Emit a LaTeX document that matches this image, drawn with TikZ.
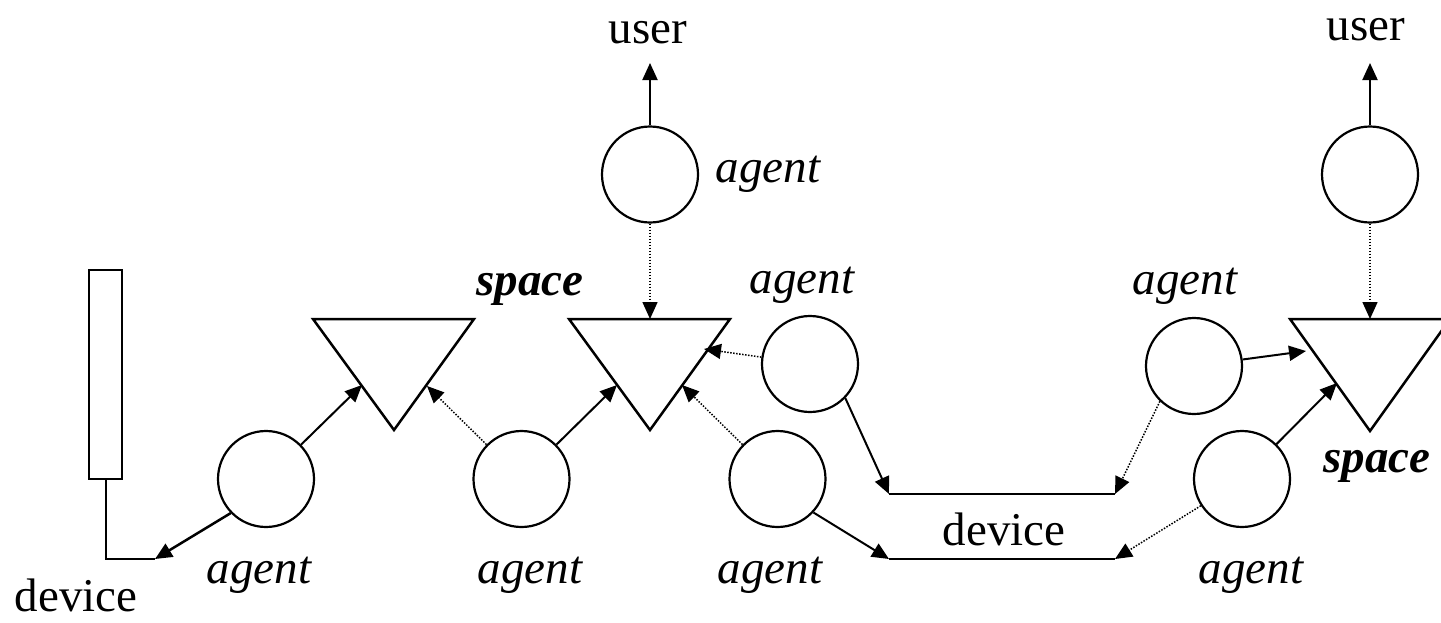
\documentclass[tikz,border=0pt]{standalone}
\usepackage{fontspec}
\setmainfont{Liberation Serif}
\usetikzlibrary{arrows.meta}
\begin{document}
\begin{tikzpicture}[x=1pt,y=-1pt,
  ag/.style={circle,draw,line width=2.2pt,minimum size=96pt,inner sep=0pt},
  lbl/.style={anchor=base,inner sep=0pt,font=\fontsize{47}{56}\selectfont},
  ital/.style={anchor=base,inner sep=0pt,font=\fontsize{47}{56}\selectfont\itshape},
  sp/.style={anchor=base,inner sep=0pt,font=\fontsize{47}{56}\selectfont\bfseries\itshape},
  conn/.style={line width=2pt,-{Triangle[length=17pt,width=15pt]}},
  dconn/.style={line width=1.5pt,dash pattern=on 1.5pt off 1.5pt,-{Triangle[length=17pt,width=15pt]}},
  tri/.style={draw,line width=2.5pt,line join=miter},
  devline/.style={line width=2.5pt}
]
\fill[white] (0,0) rectangle (1441,622);
\useasboundingbox (0,0) rectangle (1441,622);

% spaces (triangles)
\draw[tri] (313,319) -- (474,319) -- (394,430) -- cycle;
\draw[tri] (569,319) -- (730,319) -- (650,430) -- cycle;
\draw[tri] (1290,319) -- (1450,319) -- (1370,431) -- cycle;

% agents
\node[ag] (c1) at (266,479) {};
\node[ag] (c2) at (521.5,479) {};
\node[ag] (c3) at (777.5,479) {};
\node[ag] (c4) at (810,364) {};
\node[ag] (c5) at (1194,366) {};
\node[ag] (c6) at (1242,479) {};
\node[ag] (c7) at (1370,174.5) {};
\node[ag] (c8) at (650,174.5) {};

% left device
\node[draw,line width=2pt,minimum width=33pt,minimum height=209pt,inner sep=0pt] (dev) at (105.5,374.5) {};

% connector end points
\coordinate (t1a) at (362,385);
\coordinate (t1b) at (427,386);
\coordinate (t2a) at (617,385);
\coordinate (t2b) at (682,385);
\coordinate (t2c) at (704,349);
\coordinate (t2top) at (650,319);
\coordinate (t3a) at (1306,351);
\coordinate (t3b) at (1337,383);
\coordinate (t3top) at (1370,319);
\coordinate (u1) at (650,63);
\coordinate (u2) at (1370,63);
\coordinate (dl) at (155,559);
\coordinate (d1l) at (889,494);
\coordinate (d1r) at (1115,494);
\coordinate (d2l) at (889,559);
\coordinate (d2r) at (1115,559);

% device lines
\draw[devline] (d1l) -- (d1r);
\draw[devline] (d2l) -- (d2r);
\draw[line width=2pt] (dev.south) |- (dl);

% connectors
\draw[conn,line width=2.5pt] (c1.224) -- (dl);
\draw[conn] (c1) -- (t1a);
\draw[dconn] (c2) -- (t1b);
\draw[conn] (c2) -- (t2a);
\draw[dconn] (c3) -- (t2b);
\draw[dconn] (c4) -- (t2c);
\draw[dconn] (c8) -- (t2top);
\draw[conn] (c8) -- (u1);
\draw[conn] (c4.-44) -- (d1l);
\draw[conn] (c3.-43) -- (d2l);
\draw[dconn] (c5.226) -- (d1r);
\draw[dconn] (c6.213) -- (d2r);
\draw[conn] (c5) -- (t3a);
\draw[conn] (c6) -- (t3b);
\draw[dconn] (c7) -- (t3top);
\draw[conn] (c7) -- (u2);

% labels
\node[lbl] (user1) at (648,43) {user};
\node[lbl] (user2) at (1366,40) {user};
\node[ital] (a8) at (768,182) {agent};
\node[ital] (a4) at (802,293) {agent};
\node[ital] (a5) at (1185,294) {agent};
\node[sp] (s1) at (530,295) {space};
\node[sp] (s3) at (1377,472) {space};
\node[ital] (a1) at (259,583) {agent};
\node[ital] (a2) at (530,583) {agent};
\node[ital] (a3) at (770,583) {agent};
\node[ital] (a6) at (1251,583) {agent};
\node[lbl] (devl) at (76,611) {device};
\node[lbl] (devm) at (1004,545) {device};
\end{tikzpicture}
\end{document}
